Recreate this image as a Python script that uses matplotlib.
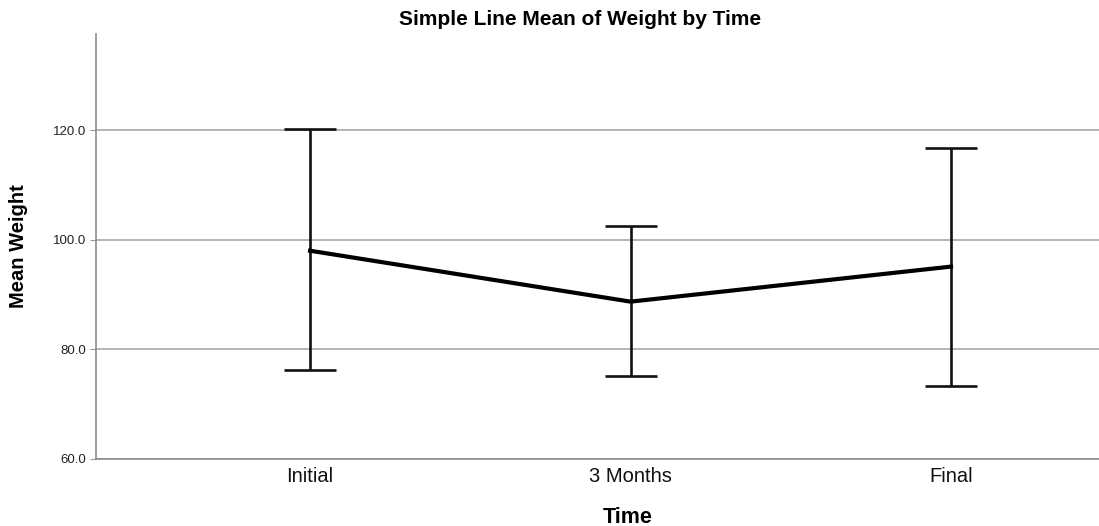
import matplotlib.pyplot as plt
import numpy as np

plt.rcParams['font.family'] = ['Liberation Sans', 'DejaVu Sans']

# Mean weight with upper/lower error bar limits at each time point
time_points = ['Initial', '3 Months', 'Final']
mean_weight = [98.0, 88.7, 95.1]
upper_limit = [120.2, 102.5, 116.8]
lower_limit = [76.2, 75.1, 73.3]

x = np.arange(len(time_points))
mean = np.array(mean_weight)
yerr = [mean - np.array(lower_limit), np.array(upper_limit) - mean]

fig = plt.figure(figsize=(10.99, 5.26), dpi=100)
ax = fig.add_axes([0.0871, 0.1279, 0.9129, 0.8075])

ax.errorbar(x, mean, yerr=yerr, fmt='none', ecolor='#111111',
            elinewidth=1.9, capsize=19, capthick=1.9, zorder=3)
ax.plot(x, mean, color='black', linewidth=3.0, zorder=4)

ax.set_xlim(-0.669, 2.462)
ax.set_ylim(60, 137.6)
ax.set_yticks([60, 80, 100, 120])
ax.set_yticklabels(['60.0', '80.0', '100.0', '120.0'], fontsize=9.5, color='#222222')
ax.set_xticks(x)
ax.set_xticklabels(time_points, fontsize=14.5, color='#111111')
ax.tick_params(axis='x', length=0, pad=6)
ax.tick_params(axis='y', length=4, color='#999999', pad=3)

ax.yaxis.grid(True, color='#b4b4b4', linewidth=1.4)
ax.set_axisbelow(True)
for side in ['top', 'right']:
    ax.spines[side].set_visible(False)
for side in ['left', 'bottom']:
    ax.spines[side].set_color('#8c8c8c')
    ax.spines[side].set_linewidth(1.2)

fig.text(0.528, 0.962, 'Simple Line Mean of Weight by Time', ha='center', va='center',
         fontsize=15, fontweight='bold')
fig.text(0.0165, 0.532, 'Mean Weight', rotation=90, ha='center', va='center',
         fontsize=14.5, fontweight='bold')
fig.text(0.571, 0.017, 'Time', ha='center', va='center',
         fontsize=15.5, fontweight='bold')

fig.savefig('out.png', dpi=100)
plt.close(fig)
